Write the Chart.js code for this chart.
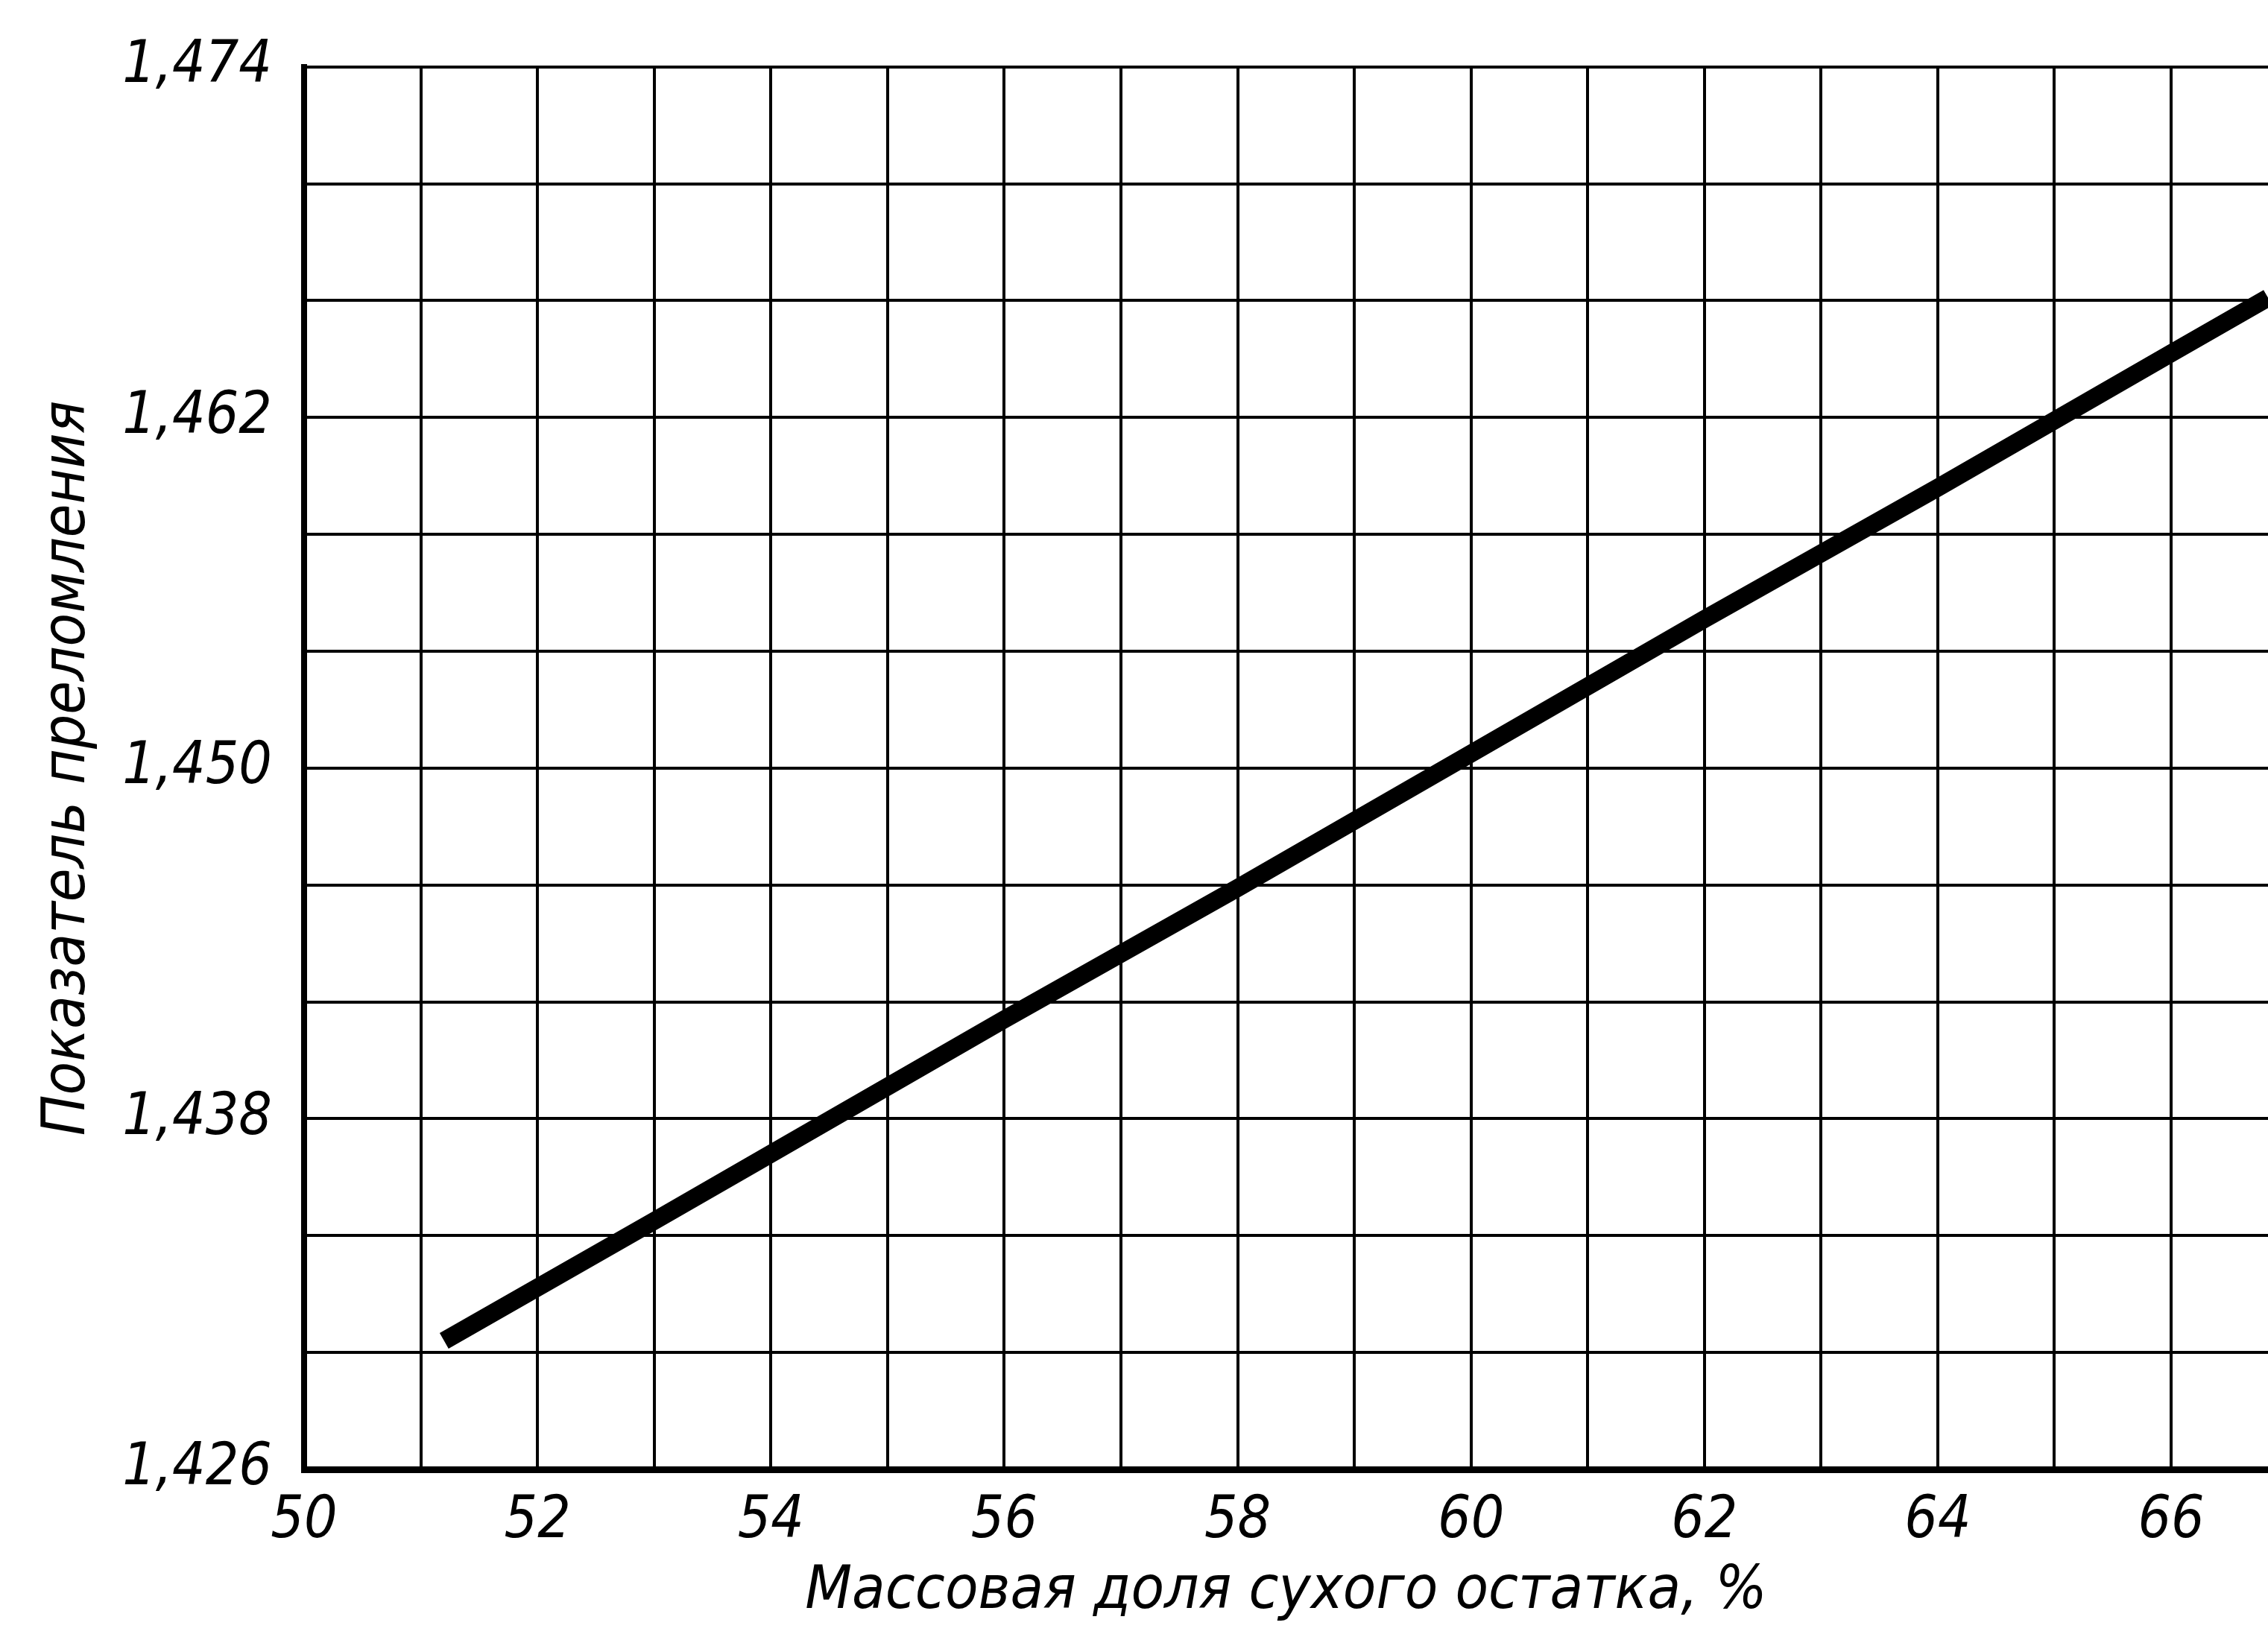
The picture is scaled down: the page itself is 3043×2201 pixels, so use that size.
<!DOCTYPE html>
<html>
<head>
<meta charset="utf-8">
<script src="https://cdn.jsdelivr.net/npm/chart.js@4"></script>
<style>
  html, body { margin: 0; padding: 0; background: #fff; }
  #wrap { width: 3043px; height: 2201px; position: relative; }
</style>
</head>
<body>
<div id="wrap"><canvas id="c"></canvas></div>
<script>
// ---- data ----
const xValues = [51.2, 53, 54, 56, 58, 60, 62, 64, 66, 66.83];
const yValues = [1.4304, 1.4345, 1.4368, 1.4414, 1.4459, 1.4505, 1.4551, 1.4596, 1.4642, 1.4661];

// grid / tick positions
const xGrid = [50, 51, 52, 53, 54, 55, 56, 57, 58, 59, 60, 61, 62, 63, 64, 65, 66];
const xTickLabels = ['50', '52', '54', '56', '58', '60', '62', '64', '66'];
const yGrid = [1.426, 1.430, 1.434, 1.438, 1.442, 1.446, 1.450, 1.454, 1.458, 1.462, 1.466, 1.470, 1.474];
const yTickLabels = ['1,426', '1,438', '1,450', '1,462', '1,474'];

const xMin = 50, xMax = 66.83;
const yMin = 1.426, yMax = 1.474;

const xTitle = 'Массовая доля сухого остатка, %';
const yTitle = 'Показатель преломления';

const FONT = "'DejaVu Sans Condensed', 'DejaVu Sans', sans-serif";

function xLabelFor(v) {
  const s = String(Math.round(v));
  return xTickLabels.includes(s) && Math.abs(v - Math.round(v)) < 1e-6 ? s : '';
}
function yLabelFor(v) {
  const s = v.toFixed(3).replace('.', ',');
  return yTickLabels.includes(s) ? s : '';
}

new Chart(document.getElementById('c'), {
  type: 'line',
  data: {
    datasets: [{
      data: xValues.map((x, i) => ({ x: x, y: yValues[i] })),
      borderColor: '#000',
      borderWidth: 24,
      borderCapStyle: 'butt',
      borderJoinStyle: 'round',
      pointRadius: 0,
      tension: 0,
      fill: false
    }]
  },
  options: {
    responsive: true,
    maintainAspectRatio: false,
    devicePixelRatio: 1,
    animation: false,
    layout: { padding: { top: 82, right: 0, bottom: 0, left: 0 } },
    plugins: { legend: { display: false }, tooltip: { enabled: false } },
    scales: {
      x: {
        type: 'linear',
        min: xMin,
        max: xMax,
        afterBuildTicks: s => { s.ticks = xGrid.map(v => ({ value: v })); },
        afterFit: s => { s.height = 229; },
        grid: { color: '#000', lineWidth: 4, drawTicks: false },
        border: { color: '#000', width: 9 },
        ticks: {
          autoSkip: false,
          maxRotation: 0,
          padding: 24,
          color: '#000',
          font: { family: FONT, size: 78, style: 'italic' },
          callback: v => xLabelFor(v)
        },
        title: {
          display: true,
          text: xTitle,
          color: '#000',
          font: { family: FONT, size: 81, style: 'italic' },
          padding: { top: 0, bottom: 15 }
        }
      },
      y: {
        type: 'linear',
        min: yMin,
        max: yMax,
        afterBuildTicks: s => { s.ticks = yGrid.map(v => ({ value: v })); },
        afterFit: s => { s.width = 408; },
        grid: { color: '#000', lineWidth: 4, drawTicks: false },
        border: { color: '#000', width: 8 },
        ticks: {
          autoSkip: false,
          padding: 43,
          color: '#000',
          font: { family: FONT, size: 78, style: 'italic' },
          callback: v => yLabelFor(v)
        },
        title: {
          display: true,
          text: yTitle,
          color: '#000',
          font: { family: FONT, size: 81, style: 'italic' },
          padding: { top: 43, bottom: 0 }
        }
      }
    }
  }
});
</script>
</body>
</html>
